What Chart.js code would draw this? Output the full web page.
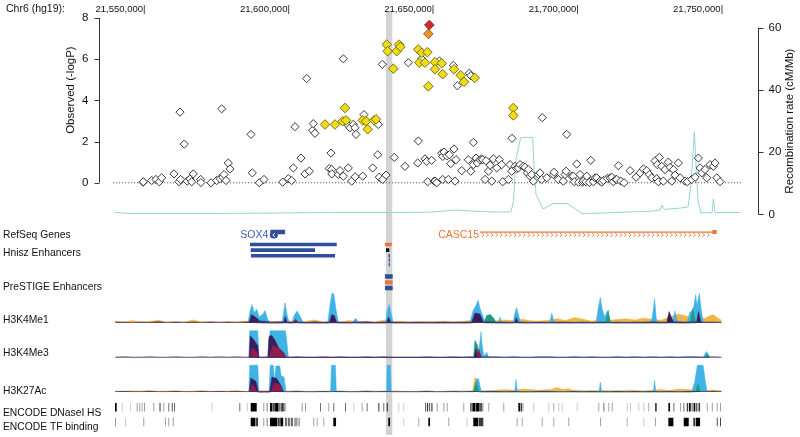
<!DOCTYPE html>
<html><head><meta charset="utf-8">
<script src="https://cdn.jsdelivr.net/npm/chart.js@4.4.1/dist/chart.umd.min.js"></script>
<style>html,body{margin:0;padding:0;background:#fff;}#wrap{width:800px;height:437px;}</style>
</head><body><div id="wrap"><canvas id="c" width="800" height="437"></canvas></div>
<script>
// ---------------- DATA ----------------
const chromLabel = 'Chr6 (hg19):';
const xRange = [21539270, 21757410];
const xTickLabels = [21550000, 21600000, 21650000, 21700000, 21750000];
const leftTicks = [0, 2, 4, 6, 8];
const rightTicks = [0, 20, 40, 60];
const highlight = [21633800, 21635980];

// association points [position, -log10 P]
const leadSnp = [[21648800, 7.66]];
const r2High = [[21648450, 7.23]];
const r2Mid = [
[21612670,2.83],[21616140,2.83],[21619600,3.63],[21618810,2.99],[21619950,3.03],[21625730,3.03],[21626880,2.99],[21627460,2.6],[21629650,3.03],[21630340,3.08],
[21634030,6.71],[21634380,6.39],[21636330,5.54],[21637500,6.39],[21638300,6.71],[21638750,6.6],
[21644990,6.47],[21646170,6.31],[21648110,6.34],[21645330,5.83],[21647300,5.83],[21648450,4.68],
[21650770,5.86],[21650770,5.51],[21653090,5.8],[21653440,5.27],[21657340,5.51],[21659650,5.22],[21660810,4.9],[21664520,5.09],
[21677890,3.63],[21677890,3.27]
];
const r2Low = [
[21549650,0.03],[21549750,0.05],[21552670,0.11],[21554160,0.16],[21555300,0.05],[21556130,0.24],
[21560390,0.43],[21562120,0.05],[21562470,3.43],[21562710,0.16],[21563950,1.88],[21564990,0.08],[21565930,0.19],[21566520,0.05],[21567070,0.43],[21569630,0.16],[21569700,0.01],
[21573200,0],[21575170,0.11],[21576320,0.2],[21576900,3.59],[21577250,0.27],[21577700,0.4],[21578390,0.11],[21579190,0.96],[21579780,0.67],
[21587050,2.35],[21587500,0.48],[21589920,0],[21591550,0.16],
[21598030,0.03],[21599970,0.2],[21601140,0.11],[21601700,0.72],[21602290,2.72],[21604360,1.2],[21605750,0.43],[21606340,5.06],[21607240,0.56],[21608410,2.55],[21608620,2.87],[21609210,2.4],
[21614160,0.69],[21614750,1.44],[21614990,0.64],[21615050,0.43],[21617280,0.4],[21617870,0.59],[21619010,0.32],[21619020,6.02],[21620390,2.83],[21620740,0.72],[21621330,2.67],[21621920,0.08],[21622470,2.83],[21623060,2.67],[21623100,0.29],[21623410,2.35],[21625730,0.32],[21626180,3.31],
[21629190,0.72],[21630920,1.36],[21631130,2.83],[21631470,0.27],[21632520,5.75],[21632650,0.16],[21633790,0.37],
[21636670,1.23],[21640370,0.8],[21641530,5.83],[21644770,0.96],[21644990,2.03],[21646170,6.02],[21647300,1.16],[21647890,1.04],[21648230,0.05],[21649620,1.09],[21650520,0.08],[21650770,0.08],[21651350,0],
[21652250,5.91],[21653090,1.44],[21653440,1.28],[21653440,0.16],[21653890,1.49],[21654830,1.3],[21655380,0.16],[21655730,1.36],[21656210,0.93],[21657110,5.7],[21657350,1.64],[21657700,0.08],[21658040,1.12],[21658500,4.71],
[21660020,0.59],[21662300,1.12],[21662650,5.32],[21663140,5.2],[21663140,0.56],[21664040,1.96],[21664040,0.88],[21664970,1.2],[21665420,0.96],[21666360,1.12],[21666940,1.16],[21667290,1.12],[21668090,0.16],[21668430,1.07],[21669230,0.56],[21669820,0.85],
[21670410,0.08],[21670960,1.16],[21672140,0.72],[21673040,1.12],[21673870,0.88],[21674220,0.05],[21676160,0.16],[21676750,0.88],[21677330,0.56],[21677430,2.16],[21678480,0.8],[21679070,0.69],[21679620,0.72],
[21680210,0.88],[21681350,0.8],[21681940,0.75],[21682740,0.48],[21683080,0.64],[21683670,0.32],[21684260,0.4],[21684820,0.08],[21686550,0.4],[21687130,0.48],[21687720,0.16],[21687900,3.16],[21689460,0.24],
[21691740,0.4],[21691980,0.51],[21693470,0.16],[21695200,0.08],[21695790,0.4],[21696140,0.56],[21696380,2.35],[21698110,0.32],[21698670,0.32],[21699000,0.05],[21699840,0.91],
[21700500,0.03],[21700990,0.4],[21701800,0.02],[21702130,0.08],[21703000,0.05],[21703310,0.32],[21704200,0.02],[21704690,1.09],[21705600,0.05],[21706180,0.24],[21706770,0.24],[21707910,0.08],[21708500,0.03],[21709060,0.11],
[21710440,0.21],[21711380,0.24],[21711970,0.27],[21712500,0.05],[21713450,0.16],[21713700,0.16],[21714250,0.83],[21715080,0.08],[21716220,0],[21718300,0.59],
[21720380,0.27],[21721770,0.48],[21722910,0.67],[21724090,0.59],[21724990,0.4],[21725820,0.24],[21726960,1.07],[21727550,0.2],[21727760,0.88],[21728100,0.05],[21728450,1.23],[21729280,0.8],[21729830,0.08],
[21730420,0.64],[21731570,1.0],[21732150,0.75],[21732740,0.08],[21733300,0.64],[21733890,0.37],[21735030,0.96],[21735620,0.24],[21737350,0.08],[21738150,0.05],[21739670,0.16],
[21740810,0.27],[21741950,1.2],[21742540,0.72],[21743130,0.48],[21744270,0.64],[21744860,0.24],[21746010,0.88],[21747150,0.8],[21747740,0.96],[21748330,0.24],[21749470,0.05]
];

// recombination rate [position, cM/Mb]
const recombRate = [
[21539960,0.6],[21545150,0.3],[21552080,0.3],[21569400,0.3],[21586700,0.35],[21604000,0.5],[21617870,0.6],[21638650,0.6],[21649040,0.7],[21658050,1.4],
[21666350,0.9],[21675010,0.7],[21677090,0.9],[21677890,4],[21678820,18],[21680450,24.7],[21684610,24.7],[21685060,15],[21685750,6.4],[21688180,1.7],
[21691640,3.5],[21696490,3.5],[21701690,0.3],[21707920,0.4],[21725240,1.0],[21728700,1.4],[21729380,3.0],[21730080,1.6],[21735620,2.0],[21738390,2.4],
[21739430,10],[21740570,26.6],[21741340,12],[21741850,4.4],[21742890,0.5],[21746700,0.5],[21747150,4.9],[21747740,0.6],[21756400,0.6]
];

// genes [start, end]
const sox4 = [21593751, 21598847];
const casc15 = [21666350, 21748100];
const casc15Exon = [21746800, 21748300];

// enhancers [start, end, row, class(0 blue,1 orange,2 black)]
const hniszEnh = [
[21586700,21616730,0,0],[21586950,21609220,1,0],[21587050,21616140,2,0],
[21633460,21635780,0,1],[21633800,21634950,1,2],[21634650,21635150,2,0],[21634750,21635150,3,0],[21634700,21635100,4,0]
];
const prestigeEnh = [[21633460,21636120,0,0],[21633460,21636120,1,1],[21633460,21636120,2,0]];

// histone signal: shared background positions + per-series values
const noisePos = [
21540000,21543000,21546000,21549000,21552000,21555000,21558000,21561000,21564000,21567000,
21570000,21573000,21576000,21579000,21582000,21585000,21588000,21591000,21594000,21597000,
21600000,21603000,21606000,21609000,21612000,21615000,21618000,21621000,21624000,21627000,
21630000,21633000,21636000,21639000,21642000,21645000,21648000,21651000,21654000,21657000,
21660000,21663000,21666000,21669000,21672000,21675000,21678000,21681000,21684000,21687000,
21690000,21693000,21696000,21699000,21702000,21705000,21708000,21711000,21714000,21717000,
21720000,21723000,21726000,21729000,21732000,21735000,21738000,21741000,21744000,21747000,
21750000];
const me1Orange = [6,2,8,3,5,9,2,4,3,10, 3,5,2,4,3,6,2,3,4,5, 7,3,5,10,4,6,3,8,4,5, 3,9,4,6,3,4,5,3,6,4, 5,8,6,4,7,10,8,12,7,6, 9,14,8,18,12,6,10,8,12,14, 10,16,12,9,20,30,22,25,15,28, 8];
const me1Dark = [2,3,1,3,2,4,2,3,2,3, 2,3,2,3,2,3,5,6,3,4, 3,3,2,4,2,3,3,2,3,4, 2,3,3,2,2,3,2,3,3,2, 3,3,2,4,3,3,2,3,2,3, 2,3,3,2,3,2,3,2,3,2, 3,3,4,3,3,4,3,4,3,3, 2];
const me3Dark = [1,2,1,1,2,1,1,2,1,1, 2,1,2,1,2,1,1,1,2,1, 1,2,1,1,2,1,2,1,1,2, 1,2,1,1,1,1,2,1,1,2, 1,2,1,2,2,1,2,1,1,2, 2,1,1,2,1,2,1,1,2,1, 2,1,2,1,2,1,2,2,1,2, 1];
const k27Orange = [3,2,4,3,5,2,3,4,2,3, 4,3,2,3,4,2,3,5,3,2, 3,4,2,3,2,4,3,2,3,4, 3,2,4,3,2,3,4,2,3,3, 4,3,5,4,6,8,6,10,8,6, 8,10,7,6,5,4,6,5,4,6, 5,4,6,8,5,10,8,6,5,7, 4];

const me1Cyan = [[21586000,0],[21586700,40],[21587400,62],[21588200,35],[21589100,46],[21589900,20],[21591200,30],[21591900,42],[21592900,10],[21593800,0],
[21597800,0],[21598400,40],[21598830,68],[21599500,30],[21600300,0],[21601200,0],[21602000,25],[21603000,40],[21604300,18],[21605200,0],
[21613600,0],[21614400,60],[21615100,100],[21615700,98],[21616500,45],[21617300,0],[21622000,0],[21623300,15],[21624500,0],
[21633600,0],[21634300,45],[21634900,62],[21635600,30],[21636300,0],[21662800,0],[21663900,40],[21665000,60],[21665700,76],[21666500,45],[21667500,20],[21668300,0],
[21672800,0],[21673300,20],[21673900,0],[21677700,0],[21678500,35],[21679000,52],[21679800,22],[21680500,0],[21690500,0],[21691200,33],[21692000,0],
[21706500,0],[21707400,55],[21708000,86],[21708700,45],[21709500,20],[21710400,40],[21711300,10],[21712000,0],[21725700,0],[21726400,50],[21726800,82],[21727500,0],
[21733000,0],[21733800,40],[21734300,20],[21735000,0],[21738000,0],[21739000,35],[21740200,45],[21741000,95],[21741500,60],[21742300,100],[21743000,40],[21743700,0]];
const me1Purple = [[21586400,0],[21587200,28],[21588500,20],[21589500,12],[21590500,0],[21598400,0],[21598900,22],[21599600,0],[21614200,0],[21615000,28],[21615900,25],[21616700,0],
[21634000,0],[21634700,20],[21635500,0],[21663400,0],[21664600,33],[21666300,30],[21667600,0],[21678300,0],[21678900,18],[21679600,0],[21731000,0],[21731800,38],[21732800,15],[21733500,0],[21741300,0],[21742000,38],[21742900,0]];
const me1Teal = [[21667800,0],[21668600,25],[21670000,28],[21671300,12],[21672000,0],[21710000,0],[21710700,43],[21711500,0],[21739200,0],[21740000,50],[21741000,0]];
const me1Maroon = [[21587000,0],[21587800,15],[21588600,0],[21601500,0],[21602500,12],[21603500,0],[21664000,0],[21665200,18],[21666200,0]];

const me3Cyan = [[21586300,0],[21586600,90],[21589400,90],[21589800,0],[21592900,0],[21593200,55],[21593700,90],[21599000,90],[21599600,40],[21600000,0],
[21665600,0],[21666400,60],[21666700,87],[21667100,40],[21667700,5],[21668700,17],[21669300,0],[21743500,0],[21744800,20],[21746000,0]];
const me3Purple = [[21586400,0],[21586800,73],[21588000,60],[21589400,40],[21589800,0],[21592900,0],[21593300,70],[21594200,75],[21595500,55],[21596500,35],[21597500,0],[21664300,0],[21665000,30],[21665500,12],[21666300,0]];
const me3Teal = [[21664100,0],[21664600,57],[21665500,40],[21666200,0],[21744400,0],[21745000,13],[21745600,0]];
const me3Maroon = [[21586500,0],[21587500,33],[21589000,20],[21589700,0],[21593300,0],[21594500,40],[21597000,30],[21598500,15],[21599200,0],[21665200,0],[21666000,27],[21666900,0]];

const k27Cyan = [[21586300,0],[21586600,90],[21589400,90],[21589800,0],[21593300,0],[21593700,90],[21594800,90],[21595200,40],[21595700,88],[21597000,88],[21597500,55],[21598500,50],[21599200,0],
[21614600,0],[21614900,90],[21616300,90],[21616600,0],[21634000,0],[21634200,90],[21635300,90],[21635600,0],[21664400,0],[21665000,40],[21665800,45],[21666800,0],
[21678400,0],[21678800,43],[21679300,0],[21707600,0],[21708000,33],[21708500,0],[21726400,0],[21726800,40],[21727200,0],[21739800,0],[21740700,35],[21741600,90],[21743600,90],[21744300,40],[21745000,0]];
const k27Purple = [[21586400,0],[21587000,47],[21588800,35],[21589600,0],[21593500,0],[21594300,50],[21596000,45],[21597500,20],[21598300,0]];
const k27Maroon = [[21586500,0],[21587500,27],[21589300,0],[21594000,0],[21595000,30],[21597000,25],[21598000,0]];
const k27OrangePk = [[21663700,0],[21664500,47],[21665300,45],[21666000,20],[21666800,0],[21690000,0],[21691500,10],[21693000,15],[21695000,8],[21697000,12],[21699000,0],[21739500,0],[21740500,27],[21741500,0]];
const k27Teal = [[21664000,0],[21665000,33],[21666000,0],[21741000,0],[21741800,27],[21742600,0]];

// ENCODE [start, end, score 0..1]
const dnaseHS = [
[21539960,21540550,1],[21542280,21542600,0.3],[21545150,21545450,0.3],[21547470,21547800,0.35],[21548370,21548700,0.35],[21549200,21549500,0.35],[21550000,21550350,0.4],
[21553220,21553550,0.45],[21554160,21554500,0.4],[21555300,21555800,0.5],[21556680,21557000,0.45],[21558410,21558750,0.5],[21559590,21560000,0.6],[21560390,21560750,0.5],
[21573440,21573750,0.25],[21583000,21583350,0.5],[21585560,21585900,0.3],[21586950,21589030,1],[21591310,21591650,0.4],[21592490,21592800,0.5],
[21593630,21594500,0.9],[21594700,21595300,0.7],[21595400,21596600,1],[21596800,21597300,0.6],[21597500,21598400,0.8],[21598600,21599000,0.5],[21599200,21599500,0.4],
[21600560,21600900,0.4],[21602290,21602600,0.4],[21604610,21604950,0.45],[21605750,21606100,0.45],[21609220,21609550,0.4],[21610950,21611300,0.5],[21612680,21613000,0.3],[21613820,21614150,0.4],
[21615550,21615900,0.6],[21617870,21618200,0.4],[21619600,21619950,0.5],[21622480,21622800,0.3],[21625390,21625700,0.4],[21627120,21627450,0.5],[21628260,21628600,0.6],[21629990,21630300,0.4],
[21631140,21631500,0.7],[21632870,21633200,0.5],[21634050,21634450,0.8],[21635190,21635500,0.6],[21636920,21637250,0.4],[21638060,21638400,0.3],[21639800,21640100,0.3],
[21647310,21647700,0.6],[21648000,21648400,0.8],[21648700,21649100,0.5],[21649500,21649900,0.7],[21651360,21651700,0.4],[21652500,21652800,0.35],[21653650,21654000,0.4],[21654830,21655150,0.35],
[21659430,21659750,0.3],[21660570,21660900,0.35],[21662890,21663500,0.6],[21663700,21664800,0.9],[21665000,21666200,1],[21666400,21667000,0.7],[21667200,21667500,0.5],
[21669230,21669550,0.35],[21673280,21673600,0.4],[21674420,21674750,0.4],[21679620,21680300,1],[21680500,21680900,0.8],[21681100,21681350,0.6],[21684810,21685150,0.3],[21687130,21687450,0.35],
[21690010,21690350,0.3],[21691740,21692050,0.35],[21693470,21693800,0.3],[21694650,21694950,0.3],[21699840,21700150,0.25],[21707320,21707650,0.4],[21709060,21709400,0.5],[21710790,21711100,0.4],
[21711970,21712300,0.4],[21717160,21717500,0.3],[21718300,21718650,0.3],[21720030,21720350,0.35],[21721180,21721500,0.3],[21722910,21723250,0.3],[21724640,21724950,0.35],[21726960,21727550,0.7],
[21731570,21732150,1],[21733300,21733650,0.5],[21733890,21734200,0.5],[21735620,21735950,0.45],[21736760,21737100,0.5],[21737940,21738400,0.7],[21738700,21739300,0.9],[21739600,21740000,0.6],
[21740300,21740900,1],[21741200,21741600,0.7],[21742000,21742550,0.8],[21744870,21745200,0.4],[21746600,21746950,0.35],[21748330,21748650,0.35],[21749470,21749800,0.35]
];
const tfBinding = [
[21539960,21540300,0.35],[21543420,21543750,0.3],[21549760,21550100,0.4],[21557270,21557600,0.4],[21558410,21558750,0.35],[21559940,21560300,0.4],[21584980,21585300,0.35],
[21586950,21588600,1],[21588800,21589500,0.7],[21591310,21591650,0.4],[21592490,21592800,0.6],[21593630,21596200,1],[21596400,21597000,0.8],[21597200,21598200,0.9],
[21598830,21599500,0.55],[21599800,21600500,0.5],[21600800,21601600,0.55],[21602000,21603200,0.45],[21603500,21604000,0.4],[21608620,21608950,0.4],[21609800,21610100,0.4],
[21610950,21611250,0.45],[21612100,21612400,0.35],[21615550,21616500,1],[21624800,21625100,0.3],[21634600,21635200,0.95],[21639800,21640100,0.25],[21644990,21645300,0.35],
[21648460,21649040,0.9],[21654230,21654550,0.35],[21655380,21655700,0.35],[21661740,21662050,0.3],[21664030,21665800,1],[21666000,21667500,0.8],[21679060,21679380,0.4],
[21680800,21681100,0.35],[21687720,21688050,0.35],[21691740,21692050,0.35],[21696930,21697250,0.35],[21707920,21708250,0.45],[21711380,21711700,0.4],[21717160,21717450,0.35],
[21722910,21723250,0.3],[21726960,21727300,0.35],[21731570,21733300,0.9],[21736890,21738620,1],[21740200,21740900,0.7],[21741100,21742550,0.9],[21746010,21746300,0.4],
[21748330,21748650,0.8],[21749470,21749800,0.8]
];

// ---------------- LAYOUT / STYLE ----------------
const FONT = "'Liberation Sans', Arial, Helvetica, sans-serif";
const AREA = {left: 113, right: 743, top: 18, bottom: 437};
const LANE = {genes: 235, hnisz: [247.5, 253.3, 258.9, 263.4, 267.8], prestige: [280, 286, 291.6], dnase: 412.5, tf: 427.5};
const TRACK_BASE = {me1: 327, me3: 362, k27: 397};
const C = {cyan: '#3fb3e3', purple: '#3a1d5e', teal: '#1e9b80', maroon: '#8e1d4e', orange: '#f3b447',
  blue: '#2f4f9c', geneOrange: '#e8763a', recomb: '#93d2da', yellow: '#eedc1a'};

function rangeFor(basePx, pxPerUnit) {
  const min = -(AREA.bottom - basePx) / pxPerUnit;
  return {min, max: min + (AREA.bottom - AREA.top) / pxPerUnit};
}
const pts = a => a.map(([x, y]) => ({x, y}));
const noise = vals => noisePos.map((x, i) => ({x, y: vals[i]}));
function segs(list, laneFn) {
  const out = [];
  list.forEach(r => { const y = laneFn(r); out.push({x: r[0], y}, {x: r[1], y}, {x: r[1], y: null}); });
  return out;
}
function area(data, axis, color, order) {
  return {type: 'line', data, yAxisID: axis, borderColor: color, backgroundColor: color, borderWidth: 0.5,
    fill: 'origin', pointRadius: 0, tension: 0, order};
}
function lane(data, color, width, order) {
  return {type: 'line', data, yAxisID: 'yLane', borderColor: color, borderWidth: width, borderCapStyle: 'butt',
    fill: false, pointRadius: 0, tension: 0, spanGaps: false, order};
}
function shade(s) {
  if (s >= 0.9) return '#000000';
  if (s >= 0.7) return '#3c3c3c';
  if (s >= 0.5) return '#6e6e6e';
  if (s >= 0.35) return '#9c9c9c';
  return '#c6c6c6';
}
function encodeSets(list, laneY) {
  const groups = {};
  list.forEach(r => { const c = shade(r[2]); (groups[c] = groups[c] || []).push(r); });
  return Object.keys(groups).map(c => lane(segs(groups[c], () => laneY), c, 8.5, 15));
}
const enhColor = ['#2f4f9c', '#e8763a', '#111111'];
function enhSets(list, rows, width) {
  return [0, 1, 2].map(k => lane(segs(list.filter(r => r[3] === k), r => rows[r[2]]), enhColor[k], width, 14));
}

const datasets = [
  {type: 'scatter', data: pts(leadSnp), yAxisID: 'y', pointStyle: 'rectRot', radius: 4.8, backgroundColor: '#d7262c', borderColor: '#6a1010', borderWidth: 0.8, order: 0},
  {type: 'scatter', data: pts(r2High), yAxisID: 'y', pointStyle: 'rectRot', radius: 4.8, backgroundColor: '#f2922a', borderColor: '#7a4a10', borderWidth: 0.8, order: 1},
  {type: 'scatter', data: pts(r2Mid), yAxisID: 'y', pointStyle: 'rectRot', radius: 4.8, backgroundColor: C.yellow, borderColor: '#5a5300', borderWidth: 0.8, order: 2},
  {type: 'scatter', data: pts(r2Low), yAxisID: 'y', pointStyle: 'rectRot', radius: 4.1, backgroundColor: '#ffffff', borderColor: '#222222', borderWidth: 0.9, order: 3},
  {type: 'line', data: [{x: xRange[0], y: 0}, {x: xRange[1], y: 0}], yAxisID: 'y', borderColor: '#333', borderWidth: 0.8, borderDash: [1.2, 1.8], pointRadius: 0, order: 4},
  {type: 'line', data: pts(recombRate), yAxisID: 'y2', borderColor: C.recomb, borderWidth: 1, pointRadius: 0, tension: 0, fill: false, order: 5},
  // genes
  lane(segs([casc15], () => LANE.genes), C.geneOrange, 1.2, 13),
  lane(segs([casc15Exon], () => LANE.genes), C.geneOrange, 4, 13),
  lane(segs([sox4], () => LANE.genes), C.blue, 4.5, 13),
  // enhancers
  ...enhSets(hniszEnh, LANE.hnisz, 3.6),
  ...enhSets(prestigeEnh, LANE.prestige, 4.4),
  // ENCODE
  ...encodeSets(dnaseHS, LANE.dnase),
  ...encodeSets(tfBinding, LANE.tf),
  // histone tracks
  area(noise(me1Orange), 'yMe1', C.orange, 30),
  area(pts(me1Cyan), 'yMe1', C.cyan, 28),
  area(pts(me1Teal), 'yMe1', C.teal, 26),
  area(pts(me1Maroon), 'yMe1', C.maroon, 24),
  area(pts(me1Purple), 'yMe1', C.purple, 22),
  area(noise(me1Dark), 'yMe1', '#3b2b63', 21),
  area(pts(me3Cyan), 'yMe3', C.cyan, 28),
  area(pts(me3Teal), 'yMe3', C.teal, 26),
  area(pts(me3Purple), 'yMe3', C.purple, 24),
  area(pts(me3Maroon), 'yMe3', C.maroon, 22),
  area(noise(me3Dark), 'yMe3', '#3b2b63', 21),
  area(noise(k27Orange), 'yK27', C.orange, 30),
  area(pts(k27OrangePk), 'yK27', C.orange, 29),
  area(pts(k27Cyan), 'yK27', C.cyan, 28),
  area(pts(k27Teal), 'yK27', C.teal, 26),
  area(pts(k27Purple), 'yK27', C.purple, 24),
  area(pts(k27Maroon), 'yK27', C.maroon, 22),
  area(noise(me3Dark), 'yK27', '#3b2b63', 21)
];

const hidden = (r, extra) => Object.assign({type: 'linear', display: false, bounds: 'data', min: r.min, max: r.max}, extra || {});

const decor = {
  id: 'decor',
  beforeDatasetsDraw(chart) {
    const ctx = chart.ctx, xs = chart.scales.x;
    const a = xs.getPixelForValue(highlight[0]), b = xs.getPixelForValue(highlight[1]);
    ctx.save();
    ctx.fillStyle = '#d3d3d3';
    ctx.fillRect(a, 11, b - a, 424);
    ctx.restore();
  },
  afterDatasetsDraw(chart) {
    const ctx = chart.ctx, xs = chart.scales.x, ys = chart.scales.y, y2 = chart.scales.y2, ca = chart.chartArea;
    ctx.save();
    ctx.fillStyle = '#111'; ctx.strokeStyle = '#333'; ctx.lineWidth = 1;
    // top position labels
    ctx.font = '9.5px ' + FONT; ctx.textAlign = 'right'; ctx.textBaseline = 'alphabetic';
    xTickLabels.forEach(v => ctx.fillText(v.toLocaleString('en-US') + '|', xs.getPixelForValue(v) + 1.5, 11.5));
    ctx.textAlign = 'left'; ctx.font = '10.5px ' + FONT;
    ctx.fillText(chromLabel, 6, 11.5);
    // left axis
    const lx = ca.left - 13.5;
    ctx.beginPath();
    ctx.moveTo(lx, ys.getPixelForValue(leftTicks[0])); ctx.lineTo(lx, ys.getPixelForValue(leftTicks[leftTicks.length - 1]));
    leftTicks.forEach(t => { const p = Math.round(ys.getPixelForValue(t)) + 0.5; ctx.moveTo(lx, p); ctx.lineTo(lx - 5, p); });
    ctx.stroke();
    ctx.font = '11.5px ' + FONT; ctx.textAlign = 'right'; ctx.textBaseline = 'middle';
    leftTicks.forEach(t => ctx.fillText(String(t), lx - 11, ys.getPixelForValue(t)));
    // right axis
    const rx = ca.right + 15.5;
    ctx.beginPath();
    ctx.moveTo(rx, y2.getPixelForValue(rightTicks[0])); ctx.lineTo(rx, y2.getPixelForValue(rightTicks[rightTicks.length - 1]));
    rightTicks.forEach(t => { const p = Math.round(y2.getPixelForValue(t)) + 0.5; ctx.moveTo(rx, p); ctx.lineTo(rx + 5, p); });
    ctx.stroke();
    ctx.textAlign = 'left';
    rightTicks.forEach(t => ctx.fillText(String(t), rx + 10, y2.getPixelForValue(t)));
    // axis titles
    ctx.font = '11.5px ' + FONT; ctx.textAlign = 'center';
    ctx.save(); ctx.translate(71, ys.getPixelForValue(4.5)); ctx.rotate(-Math.PI / 2); ctx.fillText('Observed (-logP)', 0, 0); ctx.restore();
    ctx.save(); ctx.translate(790, y2.getPixelForValue(30)); ctx.rotate(-Math.PI / 2); ctx.fillText('Recombination rate (cM/Mb)', 0, 0); ctx.restore();
    // track labels
    ctx.font = '10.3px ' + FONT; ctx.textAlign = 'left'; ctx.textBaseline = 'middle';
    [['RefSeq Genes', 235], ['Hnisz Enhancers', 252.7], ['PreSTIGE Enhancers', 286.7], ['H3K4Me1', 320], ['H3K4Me3', 353.3],
     ['H3K27Ac', 390.7], ['ENCODE DNaseI HS', 413.3], ['ENCODE TF binding', 427.3]].forEach(([t, y]) => ctx.fillText(t, 3, y));
    // gene names
    ctx.font = '10.5px ' + FONT; ctx.textAlign = 'right';
    ctx.fillStyle = '#3f5aa8'; ctx.fillText('SOX4', xs.getPixelForValue(sox4[0]) - 2, LANE.genes);
    ctx.fillStyle = C.geneOrange; ctx.fillText('CASC15', xs.getPixelForValue(casc15[0]) - 1, LANE.genes);
    // SOX4 strand marker
    const sx = xs.getPixelForValue(sox4[0]) + 3.5;
    ctx.fillStyle = C.blue; ctx.beginPath(); ctx.ellipse(sx, LANE.genes, 4, 3.6, 0, 0, Math.PI * 2); ctx.fill();
    ctx.strokeStyle = '#fff'; ctx.lineWidth = 1; ctx.beginPath();
    ctx.moveTo(sx + 1, LANE.genes - 1.8); ctx.lineTo(sx - 1, LANE.genes); ctx.lineTo(sx + 1, LANE.genes + 1.8); ctx.stroke();
    // CASC15 strand chevrons
    const c0 = xs.getPixelForValue(casc15[0]) + 3, c1 = xs.getPixelForValue(casc15Exon[0]) - 2;
    ctx.strokeStyle = C.geneOrange; ctx.lineWidth = 0.9; ctx.beginPath();
    for (let x = c0; x < c1; x += 4.6) { ctx.moveTo(x - 1.2, LANE.genes - 2); ctx.lineTo(x + 0.8, LANE.genes); ctx.lineTo(x - 1.2, LANE.genes + 2); }
    ctx.stroke();
    ctx.restore();
  }
};

new Chart(document.getElementById('c'), {
  type: 'scatter',
  data: {datasets},
  options: {
    responsive: false, animation: false, events: [],
    layout: {padding: {left: AREA.left, right: 800 - AREA.right, top: AREA.top, bottom: 437 - AREA.bottom}},
    plugins: {legend: {display: false}, tooltip: {enabled: false}},
    scales: {
      x: {type: 'linear', display: false, bounds: 'data', min: xRange[0], max: xRange[1]},
      y: hidden(rangeFor(185, 20.875)),
      y2: hidden(rangeFor(217, 3.15)),
      yMe1: hidden(rangeFor(TRACK_BASE.me1, 0.3)),
      yMe3: hidden(rangeFor(TRACK_BASE.me3, 0.3)),
      yK27: hidden(rangeFor(TRACK_BASE.k27, 0.3)),
      yLane: hidden({min: AREA.top, max: AREA.bottom}, {reverse: true})
    }
  },
  plugins: [decor]
});
</script></body></html>
